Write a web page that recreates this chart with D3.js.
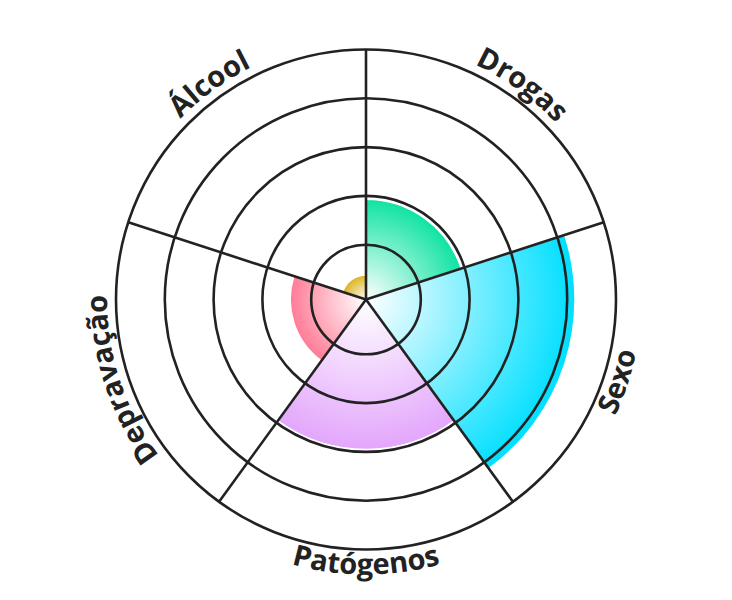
<!DOCTYPE html>
<html>
<head>
<meta charset="utf-8">
<script src="https://cdn.jsdelivr.net/npm/d3@7"></script>
<style>
  body { margin: 0; background: #ffffff; }
  .grid-line { fill: none; stroke: #222222; stroke-width: 2.6; }
  .sector { stroke: #ffffff; stroke-width: 1.5; }
  .cat-label {
    font-family: "Open Sans", sans-serif;
    font-weight: 700;
    font-size: 29px;
    fill: #222222;
  }
</style>
</head>
<body>
<svg id="chart" width="732" height="600"></svg>
<script>
const categories = ["Drogas", "Sexo", "Patógenos", "Depravação", "Álcool"];
const values = [1.93, 4.16, 2.95, 1.43, 0.38];
const colors = ["#0fe3a3", "#00dfff", "#e3a6fc", "#ff7b96", "#dcb21f"];
const ringLevels = [1, 2, 3, 4, 5];

const WIDTH = 732;
const HEIGHT = 600;
const CENTER_X = 366;
const CENTER_Y = 299.5;


class RosePresenter {

  constructor() {
    const self = this;

    self._svg = d3.select("#chart");
    self._slice = 2 * Math.PI / categories.length;

    self._rScale = d3.scaleLinear()
      .domain([0, d3.max(ringLevels)])
      .range([6, 250]);
  }

  draw() {
    const self = this;

    const root = self._svg.append("g")
      .attr("transform", "translate(" + CENTER_X + "," + CENTER_Y + ")");

    self._makeGradients();
    self._drawSectors(root);
    self._drawGrid(root);
    self._drawLabels(root);
  }

  _makeGradients() {
    const self = this;

    const defs = self._svg.append("defs");
    const grads = defs.selectAll("radialGradient")
      .data(categories)
      .enter()
      .append("radialGradient")
      .attr("id", (d, i) => "grad" + i)
      .attr("gradientUnits", "userSpaceOnUse")
      .attr("cx", 0)
      .attr("cy", 0)
      .attr("r", (d, i) => self._rScale(values[i]));

    grads.append("stop")
      .attr("offset", "0%")
      .attr("stop-color", "#ffffff");

    grads.append("stop")
      .attr("offset", "100%")
      .attr("stop-color", (d, i) => colors[i]);
  }

  _drawSectors(root) {
    const self = this;

    const arc = d3.arc()
      .innerRadius(0)
      .outerRadius((d) => self._rScale(d["value"]))
      .startAngle((d) => d["i"] * self._slice)
      .endAngle((d) => (d["i"] + 1) * self._slice);

    const records = values.map((v, i) => ({"value": v, "i": i}));

    root.append("g")
      .selectAll(".sector")
      .data(records)
      .enter()
      .append("path")
      .classed("sector", true)
      .attr("d", arc)
      .attr("fill", (d) => "url(#grad" + d["i"] + ")");
  }

  _drawGrid(root) {
    const self = this;

    const grid = root.append("g");
    const outer = self._rScale(d3.max(ringLevels));

    grid.selectAll(".ring")
      .data(ringLevels)
      .enter()
      .append("circle")
      .classed("grid-line", true)
      .attr("r", (x) => self._rScale(x));

    grid.selectAll(".spoke")
      .data(categories)
      .enter()
      .append("line")
      .classed("grid-line", true)
      .attr("x1", 0)
      .attr("y1", 0)
      .attr("x2", (d, i) => outer * Math.sin(i * self._slice))
      .attr("y2", (d, i) => -outer * Math.cos(i * self._slice));
  }

  _labelPath(i) {
    const self = this;

    const mid = (i + 0.5) * self._slice;
    const half = Math.PI / 3;
    const deg = mid * 180 / Math.PI;
    // labels on the lower right read the other way round
    const flip = deg > 90 && deg < 200;
    const r = flip ? 275 : 259;

    const pt = (a) => [r * Math.sin(a), -r * Math.cos(a)];
    const p0 = pt(mid - half);
    const p1 = pt(mid + half);

    if (flip) {
      return "M" + p1[0] + "," + p1[1] + " A" + r + "," + r + " 0 0 0 " + p0[0] + "," + p0[1];
    }
    return "M" + p0[0] + "," + p0[1] + " A" + r + "," + r + " 0 0 1 " + p1[0] + "," + p1[1];
  }

  _drawLabels(root) {
    const self = this;

    const labels = root.append("g");

    labels.selectAll(".label-path")
      .data(categories)
      .enter()
      .append("path")
      .classed("label-path", true)
      .attr("id", (d, i) => "labelPath" + i)
      .attr("d", (d, i) => self._labelPath(i))
      .attr("fill", "none");

    labels.selectAll(".cat-label")
      .data(categories)
      .enter()
      .append("text")
      .classed("cat-label", true)
      .append("textPath")
      .attr("href", (d, i) => "#labelPath" + i)
      .attr("startOffset", "50%")
      .attr("text-anchor", "middle")
      .text((d) => d);
  }

}


const presenter = new RosePresenter();
presenter.draw();
</script>
</body>
</html>
